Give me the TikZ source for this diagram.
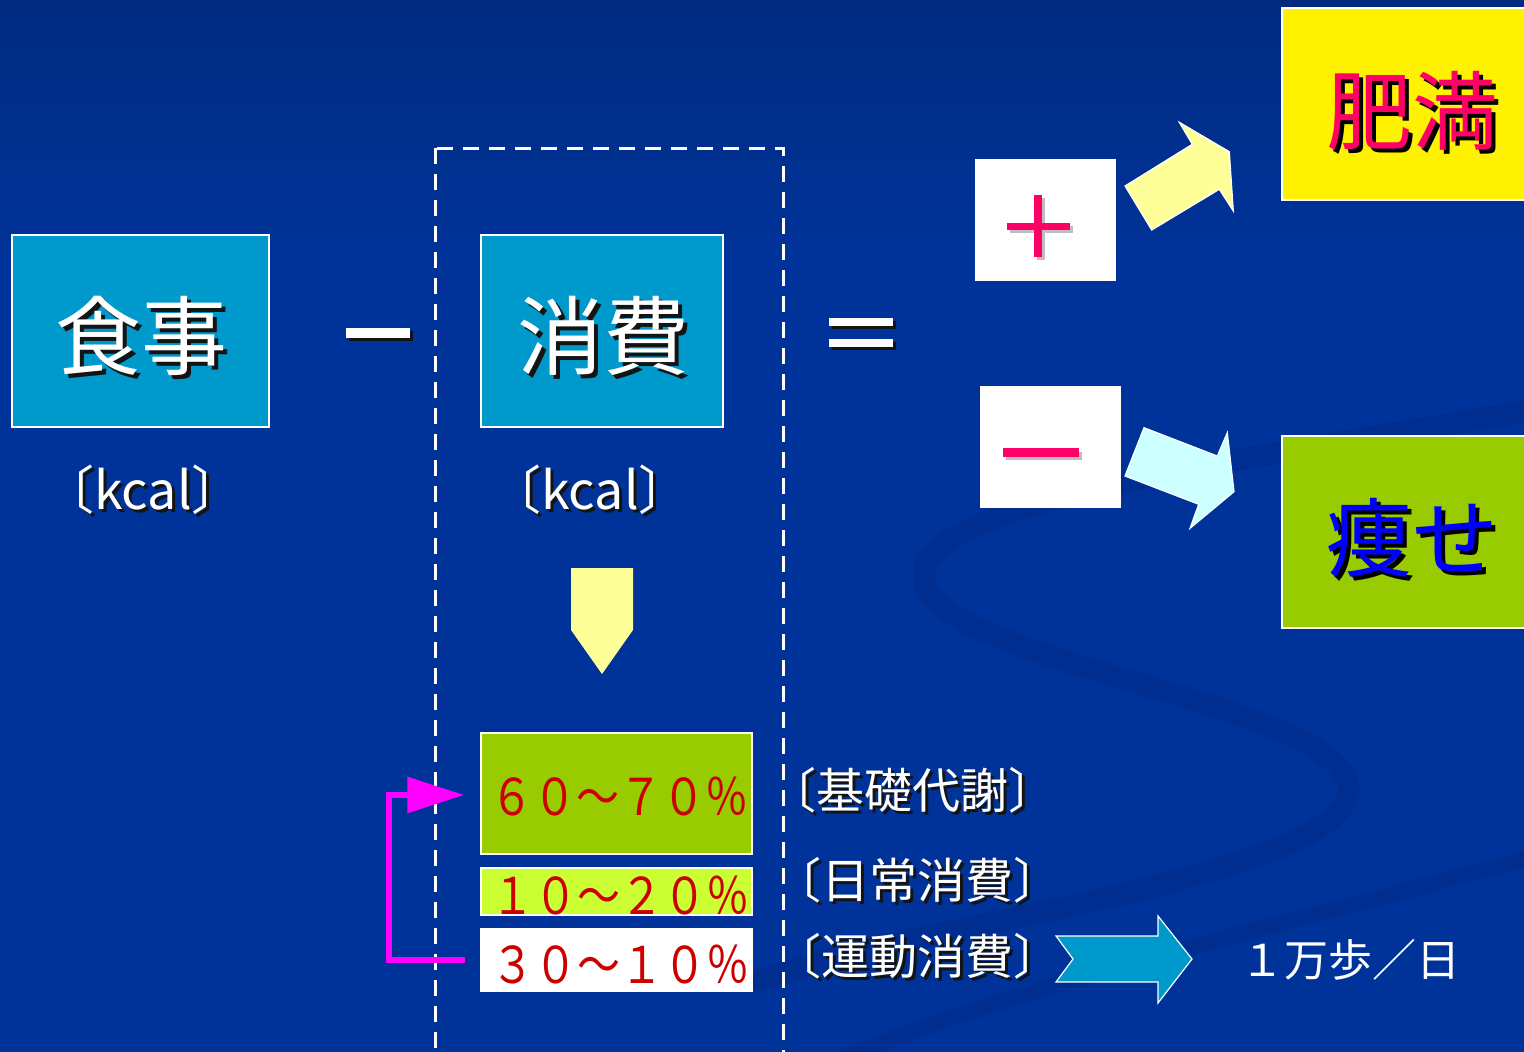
\documentclass[tikz,border=0pt]{standalone}
\usepackage{fontspec}
\setmainfont{Noto Sans CJK JP}
\usetikzlibrary{arrows.meta}
\definecolor{bg}{RGB}{0,51,153}
\definecolor{bgtop}{RGB}{0,42,128}
\definecolor{swirlc}{RGB}{0,46,144}
\definecolor{tealbox}{RGB}{0,153,204}
\definecolor{limebox}{RGB}{153,204,0}
\definecolor{limelight}{RGB}{204,255,51}
\definecolor{pinkr}{RGB}{255,0,102}
\definecolor{pctred}{RGB}{204,0,0}
\definecolor{paley}{RGB}{255,255,153}
\definecolor{palec}{RGB}{204,255,255}
\definecolor{arrowc}{RGB}{0,153,204}
\definecolor{magc}{RGB}{255,0,255}
\definecolor{shd}{RGB}{20,20,20}
\definecolor{grayshd}{RGB}{190,190,190}
\newcommand\shtxt[3][3pt]{\rlap{\kern#1\raisebox{-#1}{\color{#2}#3}}#3}
\newcommand\tallpct[1]{\scalebox{1}[1.18]{#1}}
\tikzset{
  box/.style={draw=white, line width=1.5pt, inner sep=0pt},
  big/.style={font=\fontsize{86}{90}\selectfont, text=white, inner sep=0pt},
  lbl/.style={font=\fontsize{48}{52}\selectfont, text=white, inner sep=0pt},
  pct/.style={font=\fontsize{43}{46}\selectfont, text=pctred, inner sep=0pt},
  swirl/.style={draw=swirlc, line width=22pt, line cap=round},
  magline/.style={draw=magc, line width=6pt, -{Triangle[length=57pt,width=35pt]}},
  outl/.style={draw=white, line width=1.2pt, line join=miter},
}
\begin{document}
\begin{tikzpicture}[x=1pt,y=-1pt]
\useasboundingbox (0,0) rectangle (1524,1052);
\clip (0,0) rectangle (1524,1052);
% background
\fill[bg] (0,0) rectangle (1524,1052);
\shade[top color=bgtop, bottom color=bg] (0,0) rectangle (1524,260);
\draw[swirl] (1560,405) .. controls (1250,460) and (900,500) .. (925,585)
  .. controls (950,660) and (1300,700) .. (1345,775)
  .. controls (1385,850) and (1100,900) .. (860,950) -- (760,980);
\draw[swirl, line width=16pt] (1560,850) .. controls (1300,920) and (1000,990) .. (840,1060);

% left box
\node[box, fill=tealbox, minimum width=257pt, minimum height=192pt] (foodbox) at (140.5,331) {};
\node[big] (food) at (141,338) {\shtxt[4pt]{shd}{食事}};
\node[lbl, font=\fontsize{52}{56}\selectfont] (kcal1) at (143,491) {\shtxt{shd}{〔kcal〕}};

% minus operator
\fill[shd] (349,331) rectangle (413,341);
\fill[white] (346,328) rectangle (410,338);

% dashed frame
\draw[white, line width=3pt, dash pattern=on 16pt off 10pt] (435,148) rectangle (783,1070);

% consumption box
\node[box, fill=tealbox, minimum width=242pt, minimum height=192pt] (usebox) at (602,331) {};
\node[big] (use) at (603,338) {\shtxt[4pt]{shd}{消費}};
\node[lbl, font=\fontsize{52}{56}\selectfont] (kcal2) at (590,491) {\shtxt{shd}{〔kcal〕}};

% down arrow
\fill[paley] (571,568) -- (633,568) -- (633,630) -- (602,674) -- (571,630) -- cycle;

% equals
\fill[shd] (832,321) rectangle (896,329);
\fill[shd] (832,342) rectangle (896,350);
\fill[white] (829,318) rectangle (893,326);
\fill[white] (829,339) rectangle (893,347);

% plus / minus boxes
\node[fill=white, minimum width=141pt, minimum height=122pt, inner sep=0pt] (plusbox) at (1045.5,220) {};
\node[fill=white, minimum width=141pt, minimum height=122pt, inner sep=0pt] (minusbox) at (1050.5,447) {};
\fill[grayshd] (1010,226) rectangle (1073,233);
\fill[grayshd] (1037,198) rectangle (1045,260);
\fill[pinkr] (1007,222.5) rectangle (1070,229.5);
\fill[pinkr] (1034,195) rectangle (1042,257);
\fill[grayshd] (1006,451.5) rectangle (1082,460);
\fill[pinkr] (1003,448) rectangle (1079,456.5);

% tilted arrows
\filldraw[fill=paley, outl] (1179.3,122.3) -- (1229.3,151.7) -- (1233.3,211) -- (1219.3,189.3)
  -- (1151.7,230) -- (1125,186) -- (1192.3,144.3) -- cycle;
\filldraw[fill=palec, outl] (1144,427.7) -- (1217.3,456) -- (1227.3,432.7) -- (1234,491.7)
  -- (1190,528.3) -- (1198.7,504.3) -- (1125,476) -- cycle;

% result boxes
\node[box, fill=yellow, minimum width=250pt, minimum height=192pt] (fatbox) at (1407,104) {};
\node[big, text=pinkr] (fat) at (1412,113) {\shtxt[4pt]{black}{肥満}};
\node[box, fill=limebox, minimum width=250pt, minimum height=192pt] (thinbox) at (1407,532) {};
\node[big, text=blue] (thin) at (1412,540) {\shtxt[4pt]{black}{痩せ}};

% percentage boxes
\node[box, fill=limebox, minimum width=271pt, minimum height=121pt] (b1) at (616.5,793.5) {};
\node[box, fill=limelight, minimum width=271pt, minimum height=47pt] (b2) at (616.5,891.5) {};
\node[box, fill=white, minimum width=271pt, minimum height=62pt] (b3) at (616.5,960) {};
\node[pct] (p1) at (619,796.5) {\tallpct{６０～７０％}};
\node[pct] (p2) at (620,895.5) {\tallpct{１０～２０％}};
\node[pct] (p3) at (620,964.5) {\tallpct{３０～１０％}};

% magenta feedback connector
\draw[magline] ([xshift=-15pt]b3.west) -- ++(-76,0) |- ([xshift=-16pt,yshift=-1.5pt]b1.west);

% right labels
\node[lbl] (l1) at (912,792) {\shtxt{shd}{〔基礎代謝〕}};
\node[lbl] (l2) at (917,882) {\shtxt{shd}{〔日常消費〕}};
\node[lbl] (l3) at (917,958) {\shtxt{shd}{〔運動消費〕}};

% right arrow
\filldraw[fill=arrowc, outl] (1056,936) -- (1158,936) -- (1158,916) -- (1192,959)
  -- (1158,1003) -- (1158,982) -- (1056,982) -- (1073,959) -- cycle;
\node[font=\fontsize{44}{48}\selectfont, text=white, inner sep=0pt] (steps) at (1350,960) {１万歩／日};
\end{tikzpicture}
\end{document}
